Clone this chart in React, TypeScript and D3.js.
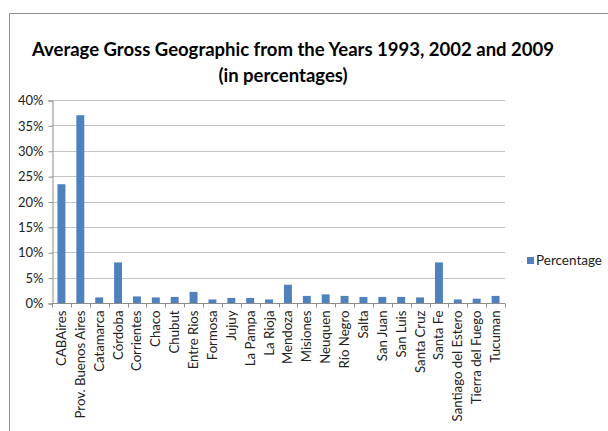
import { useEffect, useRef } from 'react';
import * as d3 from 'd3';

const provinces = [
  'CABAires', 'Prov. Buenos Aires', 'Catamarca', 'Córdoba', 'Corrientes', 'Chaco',
  'Chubut', 'Entre Rios', 'Formosa', 'Jujuy', 'La Pampa', 'La Rioja', 'Mendoza',
  'Misiones', 'Neuquen', 'Río Negro', 'Salta', 'San Juan', 'San Luis', 'Santa Cruz',
  'Santa Fe', 'Santiago del Estero', 'Tierra del Fuego', 'Tucuman',
];
const percentages = [
  23.4, 37.0, 1.1, 8.0, 1.3, 1.1, 1.2, 2.2, 0.7, 1.0, 1.0, 0.7, 3.6,
  1.4, 1.7, 1.4, 1.2, 1.2, 1.2, 1.1, 8.0, 0.7, 0.85, 1.4,
];
const yTicks = [0, 5, 10, 15, 20, 25, 30, 35, 40];
const seriesName = 'Percentage';
const titleLines = ['Average Gross Geographic from the Years 1993, 2002 and 2009', '(in percentages)'];

const FONT = 'Lato, "Open Sans", sans-serif';
const BAR = '#4F81BD';

export default function App() {
  const svgRef = useRef<SVGSVGElement | null>(null);

  useEffect(() => {
    if (!svgRef.current) return;
    const svg = d3.select(svgRef.current);
    svg.selectAll('*').remove();

    const plot = { left: 52, right: 505, top: 100, bottom: 303 };

    // outer frame (only top and left edges visible in the crop)
    svg.append('path')
      .attr('d', 'M9.5,431 V13.5 H608')
      .attr('fill', 'none')
      .attr('stroke', '#8c8c8c')
      .attr('stroke-width', 1);

    const title = svg.append('text')
      .attr('text-anchor', 'middle')
      .attr('font-family', FONT)
      .attr('font-weight', 'bold')
      .attr('font-size', 18.5)
      .attr('fill', '#000');
    title.selectAll('tspan')
      .data(titleLines)
      .join('tspan')
      .attr('x', (_, i) => (i === 0 ? 293 : 283))
      .attr('y', (_, i) => 56 + i * 26)
      .text(d => d);

    const x = d3.scaleBand()
      .domain(provinces)
      .range([plot.left, plot.right])
      .paddingInner(0.58)
      .paddingOuter(0.29);

    const y = d3.scaleLinear()
      .domain([0, 40])
      .range([plot.bottom, plot.top]);

    // gridlines
    svg.append('g')
      .selectAll('line')
      .data(yTicks.slice(1))
      .join('line')
      .attr('x1', plot.left)
      .attr('x2', plot.right)
      .attr('y1', d => Math.round(y(d)) + 0.5)
      .attr('y2', d => Math.round(y(d)) + 0.5)
      .attr('stroke', '#c4c4c4');

    // y axis
    const yAxis = svg.append('g')
      .attr('transform', `translate(${plot.left + 0.5},0.5)`)
      .call(d3.axisLeft(y).tickValues(yTicks).tickSize(4).tickFormat(d => `${d}%`));
    yAxis.select('.domain').attr('stroke', '#8c8c8c');
    yAxis.selectAll('line').attr('stroke', '#8c8c8c');
    yAxis.selectAll('text')
      .attr('font-family', FONT)
      .attr('font-size', 13)
      .attr('fill', '#222')
      .attr('x', -9);

    // bars
    svg.append('g')
      .selectAll('rect')
      .data(percentages)
      .join('rect')
      .attr('x', (_, i) => x(provinces[i]) || 0)
      .attr('y', d => y(d))
      .attr('width', x.bandwidth())
      .attr('height', d => plot.bottom - y(d))
      .attr('fill', BAR);

    // x axis with ticks at category boundaries
    const step = x.step();
    const xAxis = svg.append('g').attr('transform', `translate(0,${plot.bottom + 0.5})`);
    xAxis.append('line')
      .attr('x1', plot.left)
      .attr('x2', plot.right)
      .attr('stroke', '#8c8c8c');
    xAxis.selectAll('.tick')
      .data(d3.range(provinces.length + 1))
      .join('line')
      .attr('class', 'tick')
      .attr('x1', i => Math.round(plot.left + i * step) + 0.5)
      .attr('x2', i => Math.round(plot.left + i * step) + 0.5)
      .attr('y1', 0)
      .attr('y2', 4)
      .attr('stroke', '#8c8c8c');
    xAxis.selectAll('text')
      .data(provinces)
      .join('text')
      .attr('transform', d => `translate(${(x(d) || 0) + x.bandwidth() / 2 + 4.5},7) rotate(-90)`)
      .attr('text-anchor', 'end')
      .attr('font-family', FONT)
      .attr('font-size', 13.2)
      .attr('fill', '#222')
      .text(d => d);

    // legend
    const legend = svg.append('g').attr('transform', 'translate(527,257)');
    legend.append('rect')
      .attr('width', 7)
      .attr('height', 7)
      .attr('fill', BAR);
    legend.append('text')
      .attr('x', 9)
      .attr('y', 8)
      .attr('font-family', FONT)
      .attr('font-size', 13.5)
      .attr('fill', '#222')
      .text(seriesName);
  }, []);

  return (
    <svg
      ref={svgRef}
      width={608}
      height={431}
      style={{ position: 'absolute', left: 0, top: 0, background: '#fff' }}
    />
  );
}
